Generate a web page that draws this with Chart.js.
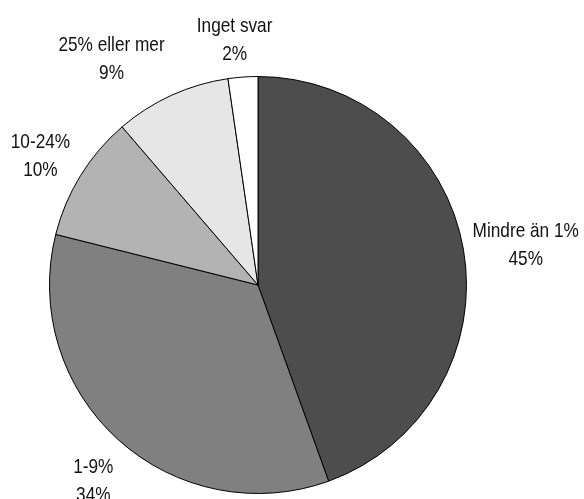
<!DOCTYPE html>
<html>
<head>
<meta charset="utf-8">
<script src="https://cdn.jsdelivr.net/npm/chart.js@4/dist/chart.umd.min.js"></script>
<style>
  html, body { margin: 0; padding: 0; background: #fff; }
  #wrap { width: 584px; height: 499px; }
</style>
</head>
<body>
<div id="wrap"><canvas id="pieChart" width="584" height="499"></canvas></div>
<script>
// answer categories, clockwise from 12 o'clock
const categories = ["Mindre än 1%", "1-9%", "10-24%", "25% eller mer", "Inget svar"];
// slice sizes (unrounded)
const shares = [44.5, 34.4, 9.8, 9.0, 2.3];
// rounded percentages printed in the labels
const shareLabels = ["45%", "34%", "10%", "9%", "2%"];
const sliceColors = ["#4d4d4d", "#808080", "#b3b3b3", "#e6e6e6", "#ffffff"];

// small hand nudges so labels sit where the original put them
const labelNudge = [[17, 2], [6, 6], [-1, 3], [-41, 4], [-5, 7]];

// no narrow font installed -> squeeze Liberation Sans horizontally
const FONT = '21px "Liberation Sans", Arial, sans-serif';
const NARROW = 0.82;
const CAP_HALF = 7.5;   // half cap height at 21px
const LINE_HALF = 14;

// -------------------------------
// outside two-line labels
// -------------------------------
const outsideLabels = {
  id: "outsideLabels",
  afterDatasetsDraw(chart) {
    const ctx = chart.ctx;
    const arcs = chart.getDatasetMeta(0).data;
    arcs.forEach((arc, i) => {
      const mid = (arc.startAngle + arc.endAngle) / 2;
      const r = arc.outerRadius + 46;
      const x = arc.x + Math.cos(mid) * r + labelNudge[i][0];
      const y = arc.y + Math.sin(mid) * r + labelNudge[i][1];
      ctx.save();
      ctx.font = FONT;
      ctx.fillStyle = "#111";
      ctx.textAlign = "center";
      ctx.textBaseline = "alphabetic";
      ctx.translate(x, y);
      ctx.scale(NARROW, 1);
      ctx.fillText(categories[i], 0, -LINE_HALF + CAP_HALF);
      ctx.fillText(shareLabels[i], 0, LINE_HALF + CAP_HALF);
      ctx.restore();
    });
  }
};

new Chart(document.getElementById("pieChart"), {
  type: "pie",
  data: {
    labels: categories,
    datasets: [{
      data: shares,
      backgroundColor: sliceColors,
      borderColor: "#000",
      borderWidth: 1,
      hoverOffset: 0
    }]
  },
  options: {
    responsive: false,
    animation: false,
    layout: { padding: { top: 76, bottom: 5, left: 49, right: 117 } },
    plugins: { legend: { display: false }, tooltip: { enabled: false } }
  },
  plugins: [outsideLabels]
});
</script>
</body>
</html>
